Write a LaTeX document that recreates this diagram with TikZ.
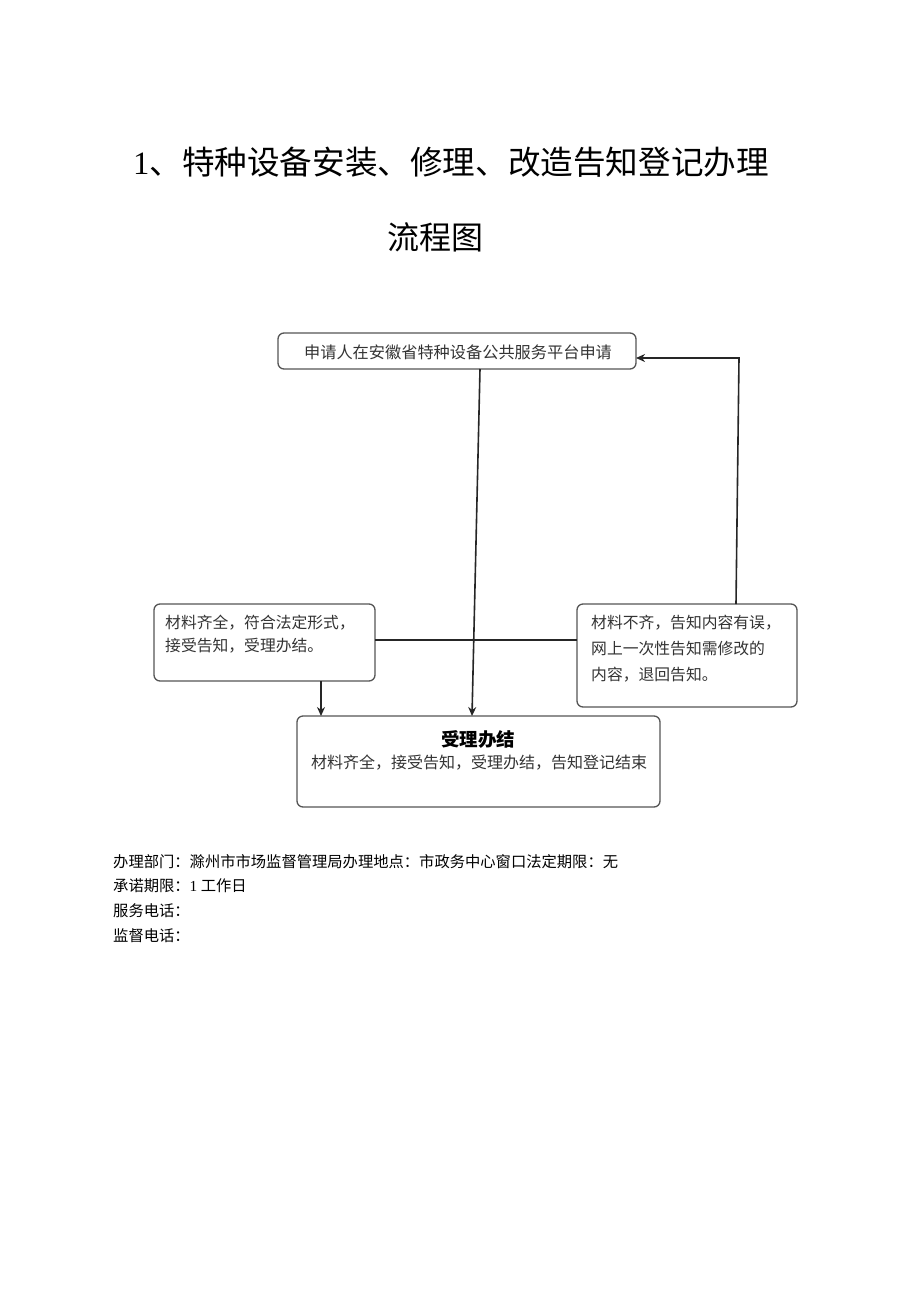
\documentclass[tikz,border=0pt]{standalone}
\usepackage{fontspec}
\setmainfont{Noto Sans CJK SC}
\newfontfamily\latinserif{Liberation Serif}
\usetikzlibrary{arrows.meta}
\definecolor{boxline}{HTML}{555555}
\definecolor{txt}{HTML}{333333}
\tikzset{
  box/.style={draw=boxline, line width=1.3pt, rounded corners=6pt, inner sep=0pt},
  conn/.style={draw=black!85, line width=1.6pt},
  arr/.style={conn, -{Stealth[length=9pt,width=8pt]}},
  body/.style={text=txt, font=\fontsize{15.8}{23}\selectfont, align=left, anchor=north west, inner sep=0pt},
  foot/.style={text=black, font=\fontsize{15.3}{18}\selectfont, anchor=west, inner sep=0pt}
}
\begin{document}
\begin{tikzpicture}[x=1pt,y=-1pt]
\useasboundingbox (0,0) rectangle (920,1301);
% title
\node (t1) at (451,162) {\fontsize{32.6}{36}\selectfont{\latinserif 1}、特种设备安装、修理、改造告知登记办理};
\node (t2) at (435,237) {\fontsize{32}{36}\selectfont 流程图};
% boxes
\path[box] (278,333) rectangle (636,369);
\node[text=txt, font=\fontsize{16.2}{18}\selectfont] (b1t) at (458,352) {申请人在安徽省特种设备公共服务平台申请};
\coordinate (b1r) at (636,358);
\coordinate (b1b) at (480,369);

\path[box] (154,604) rectangle (375,681);
\node[body] (lt) at (165,615) {材料齐全，符合法定形式，\\接受告知，受理办结。};
\coordinate (lr) at (375,640);
\coordinate (lb) at (321,681);

\path[box] (577,604) rectangle (797,707);
\node[body, font=\fontsize{15.8}{26}\selectfont] (rt) at (591,615) {材料不齐，告知内容有误，\\网上一次性告知需修改的\\内容，退回告知。};
\coordinate (rl) at (577,640);
\coordinate (rtop) at (736,604);

\path[box] (297,716) rectangle (660,807);
\node[text=black, font=\fontsize{18.5}{20}\selectfont\bfseries] (b4h) at (478,739) {受理办结};
\node[text=txt, font=\fontsize{16}{18}\selectfont] (b4t) at (479,763) {材料齐全，接受告知，受理办结，告知登记结束};
\coordinate (b4top) at (472,716);
\coordinate (b4tl) at (321,716);

% connectors
\draw[conn] (lr) -- (rl);
\draw[arr] (b1b) -- (b4top);
\draw[arr] (lb) -- (b4tl);
\draw[arr] (rtop) -- (739,358) -- (b1r);

% footer
\node[foot] (f1) at (113,862) {办理部门：滁州市市场监督管理局办理地点：市政务中心窗口法定期限：无};
\node[foot] (f2) at (113,886) {承诺期限：{\latinserif 1} 工作日};
\node[foot] (f3) at (113,911) {服务电话：};
\node[foot] (f4) at (113,936) {监督电话：};
\end{tikzpicture}
\end{document}
